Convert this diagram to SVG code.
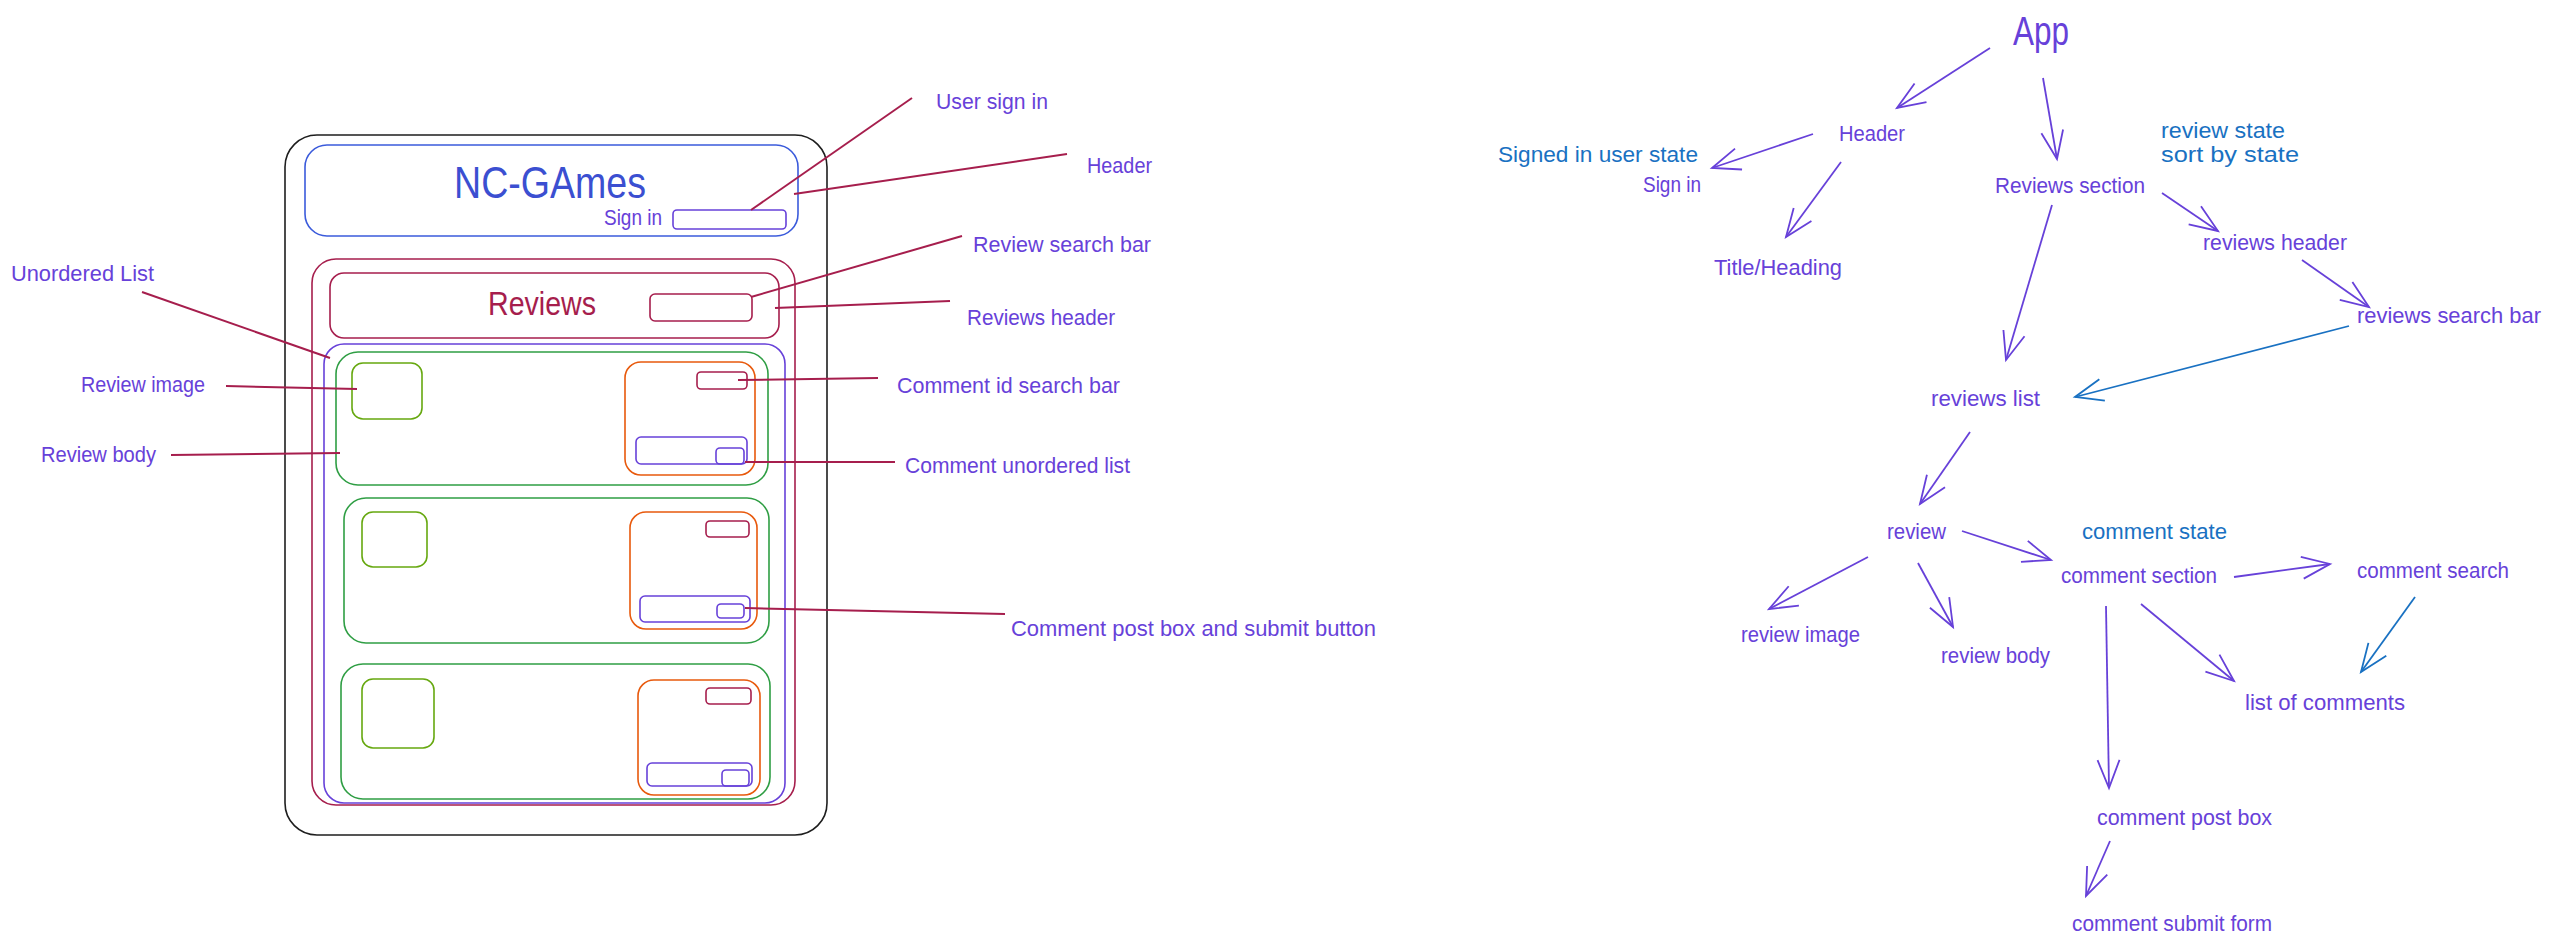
<svg xmlns="http://www.w3.org/2000/svg" width="2550" height="947" viewBox="0 0 2550 947">
<style>
text{font-family:"Liberation Sans","Open Sans",sans-serif;}
.lbl{font-size:22px;fill:#6741d9;}
.st{font-size:22px;fill:#1971c2;}
.box{fill:none;stroke-width:1.6;}
.blk{stroke:#1e1e1e;}
.bl{stroke:#3b5bdb;}
.cr{stroke:#a61e4d;}
.vi{stroke:#6741d9;}
.gr{stroke:#2f9e44;}
.ol{stroke:#66a80f;}
.or{stroke:#e8590c;}
.lead{stroke:#a61e4d;stroke-width:2;fill:none;}
.ar{stroke:#6741d9;stroke-width:1.8;fill:none;marker-end:url(#ahv);}
.arb{stroke:#1971c2;stroke-width:1.8;fill:none;marker-end:url(#ahb);}
</style>
<defs>
<marker id="ahv" markerUnits="userSpaceOnUse" markerWidth="40" markerHeight="30" viewBox="-32 -15 40 30" refX="0" refY="0" orient="auto"><path d="M-28,-11 L0,0 L-28,11" fill="none" stroke="#6741d9" stroke-width="1.8"/></marker>
<marker id="ahb" markerUnits="userSpaceOnUse" markerWidth="40" markerHeight="30" viewBox="-32 -15 40 30" refX="0" refY="0" orient="auto"><path d="M-28,-11 L0,0 L-28,11" fill="none" stroke="#1971c2" stroke-width="1.8"/></marker>
</defs>
<rect width="2550" height="947" fill="#ffffff"/>

<!-- Wireframe -->
<g id="frame"><rect class="box blk" x="285" y="135" width="542" height="700" rx="32"/></g>
<g id="header-box">
<rect class="box bl" x="305" y="145" width="493" height="91" rx="22"/>
<text x="454" y="198" font-size="44" fill="#3b4fd1" textLength="192" lengthAdjust="spacingAndGlyphs">NC-GAmes</text>
<text class="lbl" x="604" y="225" textLength="58" lengthAdjust="spacingAndGlyphs">Sign in</text>
<rect class="box vi" x="673" y="210" width="113" height="19" rx="4"/>
</g>
<g id="reviews-section">
<rect class="box cr" x="312" y="259" width="483" height="546" rx="24"/>
<rect class="box cr" x="330" y="273" width="449" height="65" rx="14"/>
<text x="488" y="315" font-size="33" fill="#a61e4d" textLength="108" lengthAdjust="spacingAndGlyphs">Reviews</text>
<rect class="box cr" x="650" y="294" width="102" height="27" rx="5"/>
</g>
<g id="unordered-list"><rect class="box vi" x="324" y="344" width="461" height="459" rx="20"/></g>
<g id="card-1">
<rect class="box gr" x="336" y="352" width="432" height="133" rx="22"/>
<rect class="box ol" x="352" y="363" width="70" height="56" rx="11"/>
<rect class="box or" x="625" y="362" width="130" height="113" rx="16"/>
<rect class="box cr" x="697" y="372" width="50" height="17" rx="4"/>
<rect class="box vi" x="636" y="437" width="111" height="27" rx="5"/>
<rect class="box vi" x="716" y="448" width="28" height="16" rx="4"/>
</g>
<g id="card-2">
<rect class="box gr" x="344" y="498" width="425" height="145" rx="22"/>
<rect class="box ol" x="362" y="512" width="65" height="55" rx="11"/>
<rect class="box or" x="630" y="512" width="127" height="117" rx="16"/>
<rect class="box cr" x="706" y="521" width="43" height="16" rx="4"/>
<rect class="box vi" x="640" y="596" width="110" height="26" rx="5"/>
<rect class="box vi" x="717" y="604" width="27" height="14" rx="4"/>
</g>
<g id="card-3">
<rect class="box gr" x="341" y="664" width="429" height="135" rx="22"/>
<rect class="box ol" x="362" y="679" width="72" height="69" rx="11"/>
<rect class="box or" x="638" y="680" width="122" height="115" rx="16"/>
<rect class="box cr" x="706" y="688" width="45" height="16" rx="4"/>
<rect class="box vi" x="647" y="763" width="105" height="23" rx="5"/>
<rect class="box vi" x="722" y="770" width="27" height="16" rx="4"/>
</g>

<!-- Wireframe labels -->
<g id="label-unordered-list"><text class="lbl" x="11" y="281" textLength="143" lengthAdjust="spacingAndGlyphs">Unordered List</text></g>
<g id="label-review-image"><text class="lbl" x="81" y="392" textLength="124" lengthAdjust="spacingAndGlyphs">Review image</text></g>
<g id="label-review-body"><text class="lbl" x="41" y="462" textLength="115" lengthAdjust="spacingAndGlyphs">Review body</text></g>
<g id="label-user-sign-in"><text class="lbl" x="936" y="109" textLength="112" lengthAdjust="spacingAndGlyphs">User sign in</text></g>
<g id="label-header"><text class="lbl" x="1087" y="173" textLength="65" lengthAdjust="spacingAndGlyphs">Header</text></g>
<g id="label-review-search-bar"><text class="lbl" x="973" y="252" textLength="178" lengthAdjust="spacingAndGlyphs">Review search bar</text></g>
<g id="label-reviews-header"><text class="lbl" x="967" y="325" textLength="148" lengthAdjust="spacingAndGlyphs">Reviews header</text></g>
<g id="label-comment-id"><text class="lbl" x="897" y="393" textLength="223" lengthAdjust="spacingAndGlyphs">Comment id search bar</text></g>
<g id="label-comment-ul"><text class="lbl" x="905" y="473" textLength="225" lengthAdjust="spacingAndGlyphs">Comment unordered list</text></g>
<g id="label-comment-post"><text class="lbl" x="1011" y="636" textLength="365" lengthAdjust="spacingAndGlyphs">Comment post box and submit button</text></g>

<!-- Tree nodes -->
<g id="n-app"><text x="2013" y="45" font-size="40" fill="#6741d9" textLength="56" lengthAdjust="spacingAndGlyphs">App</text></g>
<g id="n-header"><text class="lbl" x="1839" y="141" textLength="66" lengthAdjust="spacingAndGlyphs">Header</text></g>
<g id="n-signed-state"><text class="st" x="1498" y="162" textLength="200" lengthAdjust="spacingAndGlyphs">Signed in user state</text></g>
<g id="n-sign-in"><text class="lbl" x="1643" y="192" textLength="58" lengthAdjust="spacingAndGlyphs">Sign in</text></g>
<g id="n-title"><text class="lbl" x="1714" y="275" textLength="128" lengthAdjust="spacingAndGlyphs">Title/Heading</text></g>
<g id="n-reviews-section"><text class="lbl" x="1995" y="193" textLength="150" lengthAdjust="spacingAndGlyphs">Reviews section</text></g>
<g id="n-review-state"><text class="st" x="2161" y="138" textLength="124" lengthAdjust="spacingAndGlyphs">review state</text><text class="st" x="2161" y="162" textLength="138" lengthAdjust="spacingAndGlyphs">sort by state</text></g>
<g id="n-reviews-header"><text class="lbl" x="2203" y="250" textLength="144" lengthAdjust="spacingAndGlyphs">reviews header</text></g>
<g id="n-reviews-search"><text class="lbl" x="2357" y="323" textLength="184" lengthAdjust="spacingAndGlyphs">reviews search bar</text></g>
<g id="n-reviews-list"><text class="lbl" x="1931" y="406" textLength="109" lengthAdjust="spacingAndGlyphs">reviews list</text></g>
<g id="n-review"><text class="lbl" x="1887" y="539" textLength="59" lengthAdjust="spacingAndGlyphs">review</text></g>
<g id="n-comment-state"><text class="st" x="2082" y="539" textLength="145" lengthAdjust="spacingAndGlyphs">comment state</text></g>
<g id="n-comment-section"><text class="lbl" x="2061" y="583" textLength="156" lengthAdjust="spacingAndGlyphs">comment section</text></g>
<g id="n-comment-search"><text class="lbl" x="2357" y="578" textLength="152" lengthAdjust="spacingAndGlyphs">comment search</text></g>
<g id="n-review-image"><text class="lbl" x="1741" y="642" textLength="119" lengthAdjust="spacingAndGlyphs">review image</text></g>
<g id="n-review-body"><text class="lbl" x="1941" y="663" textLength="109" lengthAdjust="spacingAndGlyphs">review body</text></g>
<g id="n-list-comments"><text class="lbl" x="2245" y="710" textLength="160" lengthAdjust="spacingAndGlyphs">list of comments</text></g>
<g id="n-comment-post"><text class="lbl" x="2097" y="825" textLength="175" lengthAdjust="spacingAndGlyphs">comment post box</text></g>
<g id="n-comment-submit"><text class="lbl" x="2072" y="931" textLength="200" lengthAdjust="spacingAndGlyphs">comment submit form</text></g>

<!-- Connectors -->
<g id="connectors">
<line class="lead" x1="142" y1="292" x2="330" y2="358"/>
<line class="lead" x1="226" y1="386" x2="357" y2="389"/>
<line class="lead" x1="171" y1="455" x2="340" y2="453"/>
<line class="lead" x1="912" y1="98" x2="751" y2="210"/>
<line class="lead" x1="1067" y1="154" x2="794" y2="194"/>
<line class="lead" x1="962" y1="236" x2="751" y2="297"/>
<line class="lead" x1="950" y1="301" x2="775" y2="308"/>
<line class="lead" x1="878" y1="378" x2="738" y2="380"/>
<line class="lead" x1="895" y1="462" x2="745" y2="462"/>
<line class="lead" x1="1005" y1="614" x2="745" y2="608"/>

<line class="ar" x1="1990" y1="48" x2="1897" y2="108"/>
<line class="ar" x1="2043" y1="78" x2="2057" y2="159"/>
<line class="ar" x1="1813" y1="134" x2="1712" y2="168"/>
<line class="ar" x1="1841" y1="162" x2="1786" y2="237"/>
<line class="ar" x1="2162" y1="193" x2="2218" y2="231"/>
<line class="ar" x1="2302" y1="260" x2="2369" y2="307"/>
<line class="ar" x1="2052" y1="205" x2="2006" y2="360"/>
<line class="arb" x1="2349" y1="326" x2="2075" y2="397"/>
<line class="ar" x1="1970" y1="432" x2="1920" y2="504"/>
<line class="ar" x1="1962" y1="531" x2="2051" y2="560"/>
<line class="ar" x1="2234" y1="577" x2="2330" y2="564"/>
<line class="arb" x1="2415" y1="597" x2="2361" y2="672"/>
<line class="ar" x1="2141" y1="604" x2="2234" y2="681"/>
<line class="ar" x1="1868" y1="557" x2="1769" y2="609"/>
<line class="ar" x1="1918" y1="563" x2="1953" y2="627"/>
<line class="ar" x1="2106" y1="606" x2="2109" y2="788"/>
<line class="ar" x1="2110" y1="841" x2="2086" y2="896"/>
</g>
</svg>
